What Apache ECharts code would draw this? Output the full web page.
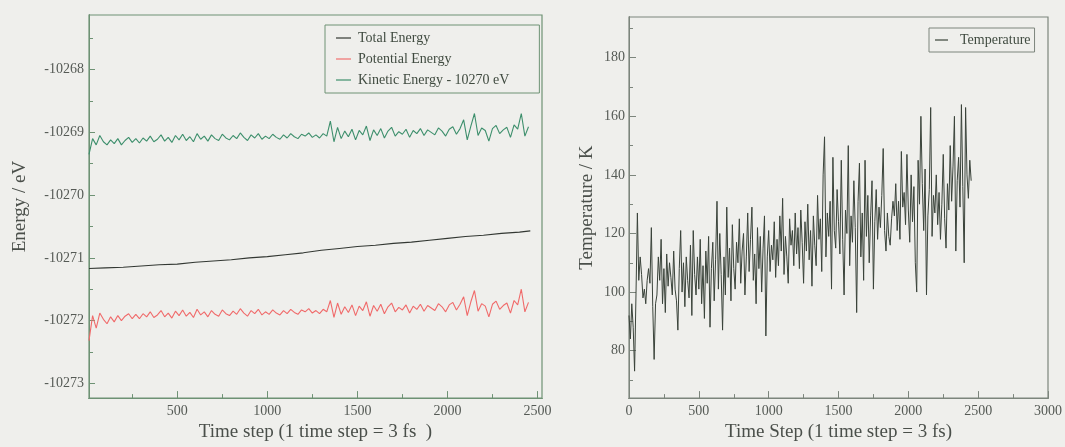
<!DOCTYPE html>
<html>
<head>
<meta charset="utf-8">
<script src="https://cdn.jsdelivr.net/npm/echarts@6/dist/echarts.min.js"></script>
<style>
html,body{margin:0;padding:0;background:#efefec;}
#chart{width:1065px;height:447px;}
</style>
</head>
<body>
<div id="chart"></div>
<script>
// ---------------- DATA ----------------
// Left panel: energies vs time step
const totalSteps = [10,100,200,300,400,500,600,700,800,900,1000,1100,1200,1300,1400,1500,1600,1700,1800,1900,2000,2100,2200,2300,2400,2460];
const totalEnergy = [-10271.17,-10271.16,-10271.15,-10271.13,-10271.11,-10271.10,-10271.07,-10271.05,-10271.03,-10271.00,-10270.98,-10270.95,-10270.92,-10270.88,-10270.85,-10270.82,-10270.80,-10270.77,-10270.75,-10270.72,-10270.69,-10270.66,-10270.64,-10270.61,-10270.59,-10270.57];

const energyStepStart = 10;   // first sampled time step
const energyStepStride = 20;  // sampling stride of the fluctuating series

const kineticShifted = [
-10269.35,-10269.10,-10269.20,-10269.05,-10269.15,-10269.20,-10269.12,-10269.18,-10269.10,-10269.20,-10269.13,-10269.08,-10269.16,
-10269.10,-10269.17,-10269.09,-10269.14,-10269.06,-10269.15,-10269.11,-10269.04,-10269.14,-10269.08,-10269.16,-10269.05,-10269.12,
-10269.03,-10269.13,-10269.07,-10269.15,-10269.02,-10269.11,-10269.06,-10269.14,-10269.04,-10269.10,-10269.13,-10269.03,-10269.09,
-10269.12,-10269.05,-10269.10,-10269.01,-10269.08,-10269.13,-10269.04,-10269.09,-10269.02,-10269.11,-10269.06,-10269.10,-10269.03,
-10269.08,-10269.11,-10269.04,-10269.09,-10269.02,-10269.07,-10269.10,-10269.03,-10269.06,-10269.01,-10269.08,-10269.04,-10269.09,
-10269.02,-10269.06,-10268.82,-10269.15,-10268.92,-10269.10,-10268.98,-10269.07,-10268.95,-10269.12,-10268.97,-10269.04,-10268.90,
-10269.13,-10268.96,-10269.05,-10268.94,-10269.09,-10268.98,-10268.92,-10269.06,-10268.99,-10269.03,-10268.95,-10269.08,-10268.97,
-10269.02,-10268.94,-10269.05,-10268.96,-10269.00,-10269.04,-10268.93,-10268.98,-10269.06,-10268.95,-10268.91,-10269.03,-10268.94,
-10268.80,-10269.12,-10268.90,-10268.70,-10269.05,-10268.93,-10268.97,-10269.14,-10268.94,-10268.89,-10269.02,-10268.96,-10268.92,
-10269.08,-10268.88,-10268.95,-10268.70,-10269.06,-10268.91
];

const potentialEnergy = [
-10272.32,-10271.92,-10272.12,-10271.88,-10271.98,-10272.05,-10271.94,-10272.02,-10271.92,-10272.00,-10271.93,-10271.89,-10271.97,
-10271.90,-10271.97,-10271.89,-10271.94,-10271.86,-10271.95,-10271.91,-10271.84,-10271.94,-10271.88,-10271.96,-10271.85,-10271.92,
-10271.83,-10271.93,-10271.87,-10271.95,-10271.82,-10271.91,-10271.86,-10271.94,-10271.84,-10271.90,-10271.93,-10271.83,-10271.89,
-10271.92,-10271.85,-10271.90,-10271.81,-10271.88,-10271.93,-10271.84,-10271.89,-10271.82,-10271.91,-10271.86,-10271.90,-10271.83,
-10271.88,-10271.91,-10271.84,-10271.89,-10271.82,-10271.87,-10271.90,-10271.83,-10271.86,-10271.81,-10271.88,-10271.84,-10271.89,
-10271.82,-10271.86,-10271.68,-10271.95,-10271.72,-10271.90,-10271.78,-10271.87,-10271.75,-10271.92,-10271.77,-10271.84,-10271.70,
-10271.93,-10271.76,-10271.85,-10271.74,-10271.89,-10271.78,-10271.72,-10271.86,-10271.79,-10271.83,-10271.75,-10271.88,-10271.77,
-10271.82,-10271.74,-10271.85,-10271.76,-10271.80,-10271.84,-10271.73,-10271.78,-10271.86,-10271.75,-10271.71,-10271.83,-10271.74,
-10271.62,-10271.92,-10271.70,-10271.52,-10271.85,-10271.73,-10271.77,-10271.94,-10271.74,-10271.69,-10271.82,-10271.76,-10271.72,
-10271.88,-10271.68,-10271.75,-10271.50,-10271.86,-10271.71
];

// Right panel: temperature vs time step
const tempStepStart = 0;
const tempStepStride = 10;
const temperature = [
92,84,96,88,73,99,127,104,112,106,
98,101,96,104,108,103,122,95,77,96,
99,112,104,118,96,108,93,113,102,110,
105,99,114,101,97,87,108,121,100,110,
95,112,104,98,116,92,121,106,99,112,
101,118,96,109,91,114,103,119,88,108,
117,97,111,131,101,120,106,87,112,99,
129,105,115,97,123,108,101,117,110,125,
103,114,120,99,112,127,107,118,129,104,
113,96,122,108,119,100,115,126,85,112,
121,107,116,111,124,105,118,109,126,114,
132,106,119,112,103,125,116,121,109,127,
113,122,108,128,117,103,124,114,130,111,
121,102,126,116,109,133,118,125,107,140,
153,112,127,119,131,101,146,121,115,135,
124,113,145,118,99,128,120,150,109,126,
117,138,122,93,131,144,112,127,104,145,
119,133,110,126,138,101,124,135,118,129,
122,133,149,121,114,127,119,116,125,131,
126,137,121,131,118,148,129,134,123,147,
128,117,140,124,136,110,100,145,130,160,
137,121,142,99,126,135,163,119,133,127,
140,123,134,118,130,147,125,115,137,128,
150,131,143,160,114,138,146,129,164,136,
110,163,140,132,145,138
];

// Tick values
const energyLabels = [-10273,-10272,-10271,-10270,-10269,-10268];
const energyMinor = [-10272.5,-10271.5,-10270.5,-10269.5,-10268.5,-10267.5];
const leftXLabels = [500,1000,1500,2000,2500];
const leftXMinor = [250,750,1250,1750,2250];
const tempLabels = [80,100,120,140,160,180];
const tempMinor = [70,90,110,130,150,170,190];
const rightXLabels = [0,500,1000,1500,2000,2500,3000];
const rightXMinor = [250,750,1250,1750,2250,2750];

// ---------------- BUILD ----------------
function pairsFromStride(start, stride, vals){ return vals.map((v,i)=>[start + i*stride, v]); }
function pairs(xs, ys){ return xs.map((x,i)=>[x, ys[i]]); }

const FONT = '"Liberation Serif", "DejaVu Serif", serif';
const LABEL_COLOR = '#555a55';
const LEFT_FRAME = '#6e9274';
const RIGHT_FRAME = '#7c857c';

function axisSet(opts){
  // returns [labelAxis, majorTickAxis, minorTickAxis]
  const base = {gridIndex: opts.grid, type:'value', min: opts.min, max: opts.max, position: opts.position,
    splitLine:{show:false}, axisLine:{show:true, onZero:false, lineStyle:{color:opts.frame, width:1}}};
  const labelAxis = Object.assign({}, base, {
    axisTick:{show:false},
    axisLabel:{show:true, customValues:opts.labels, formatter:(v)=>String(v), color:LABEL_COLOR, fontFamily:FONT, fontSize:14, margin:opts.margin},
    name: opts.name, nameLocation:'middle', nameGap: opts.nameGap,
    nameTextStyle:{fontFamily:FONT, fontSize:19, color:'#4a4f4a'}
  });
  const major = Object.assign({}, base, {
    axisTick:{show:true, inside:true, length:opts.major, customValues:opts.labels, lineStyle:{color:opts.frame, width:1}},
    axisLabel:{show:false}
  });
  const minor = Object.assign({}, base, {
    axisTick:{show:true, inside:true, length:opts.minorLen, customValues:opts.minor, lineStyle:{color:opts.frame, width:1}},
    axisLabel:{show:false}
  });
  return [labelAxis, major, minor];
}

const lx = axisSet({grid:0, position:'bottom', min:10, max:2525, labels:leftXLabels, minor:leftXMinor, major:7, minorLen:4, frame:LEFT_FRAME, margin:6, name:'Time step (1 time step = 3 fs  )', nameGap:22});
const ly = axisSet({grid:0, position:'left', min:-10273.235, max:-10267.13, labels:energyLabels, minor:energyMinor, major:6, minorLen:4, frame:LEFT_FRAME, margin:5, name:'Energy / eV', nameGap:59});
const rx = axisSet({grid:1, position:'bottom', min:0, max:3000, labels:rightXLabels, minor:rightXMinor, major:7, minorLen:4, frame:RIGHT_FRAME, margin:6, name:'Time Step (1 time step = 3 fs)', nameGap:22});
const ry = axisSet({grid:1, position:'left', min:63.8, max:193.9, labels:tempLabels, minor:tempMinor, major:7, minorLen:4, frame:RIGHT_FRAME, margin:4, name:'Temperature / K', nameGap:32});

const chart = echarts.init(document.getElementById('chart'), null, {renderer:'canvas'});
chart.setOption({
  backgroundColor:'#efefec',
  animation:false,
  textStyle:{fontFamily:FONT},
  grid:[
    {left:89, top:15, right:523, bottom:42, show:true, borderColor:LEFT_FRAME, borderWidth:1.2, backgroundColor:'transparent'},
    {left:629, top:17, right:17, bottom:45, show:true, borderColor:RIGHT_FRAME, borderWidth:1.2, backgroundColor:'transparent'}
  ],
  legend:[
    {orient:'vertical', left:325, top:25, icon:'rect', itemWidth:15, itemHeight:1.2, itemGap:7,
     padding:[6,30,6,11], borderColor:LEFT_FRAME, borderWidth:1, backgroundColor:'#efefec',
     textStyle:{fontFamily:FONT, fontSize:14, color:'#3f4a3f', padding:[0,0,0,2]},
     data:['Total Energy','Potential Energy','Kinetic Energy - 10270 eV']},
    {orient:'vertical', left:929, top:28, icon:'rect', itemWidth:13, itemHeight:1.2, itemGap:0,
     padding:[5,4,5,6], borderColor:RIGHT_FRAME, borderWidth:1, backgroundColor:'#efefec',
     textStyle:{fontFamily:FONT, fontSize:14, color:'#3f4a3f', padding:[0,0,0,7]},
     data:['Temperature']}
  ],
  xAxis:[lx[0], lx[1], lx[2], rx[0], rx[1], rx[2]],
  yAxis:[ly[0], ly[1], ly[2], ry[0], ry[1], ry[2]],
  series:[
    {name:'Total Energy', type:'line', xAxisIndex:0, yAxisIndex:0, showSymbol:false, silent:true,
     color:'#333833', lineStyle:{width:1.1, color:'#333833'}, data:pairs(totalSteps,totalEnergy)},
    {name:'Potential Energy', type:'line', xAxisIndex:0, yAxisIndex:0, showSymbol:false, silent:true,
     color:'#f07070', lineStyle:{width:1.1, color:'#f06a6a'}, data:pairsFromStride(energyStepStart,energyStepStride,potentialEnergy)},
    {name:'Kinetic Energy - 10270 eV', type:'line', xAxisIndex:0, yAxisIndex:0, showSymbol:false, silent:true,
     color:'#3d8f6c', lineStyle:{width:1.1, color:'#3d8f6c'}, data:pairsFromStride(energyStepStart,energyStepStride,kineticShifted)},
    {name:'Temperature', type:'line', xAxisIndex:3, yAxisIndex:3, showSymbol:false, silent:true,
     color:'#3a433a', lineStyle:{width:1, color:'#3a433a'}, data:pairsFromStride(tempStepStart,tempStepStride,temperature)}
  ]
});
</script>
</body>
</html>
